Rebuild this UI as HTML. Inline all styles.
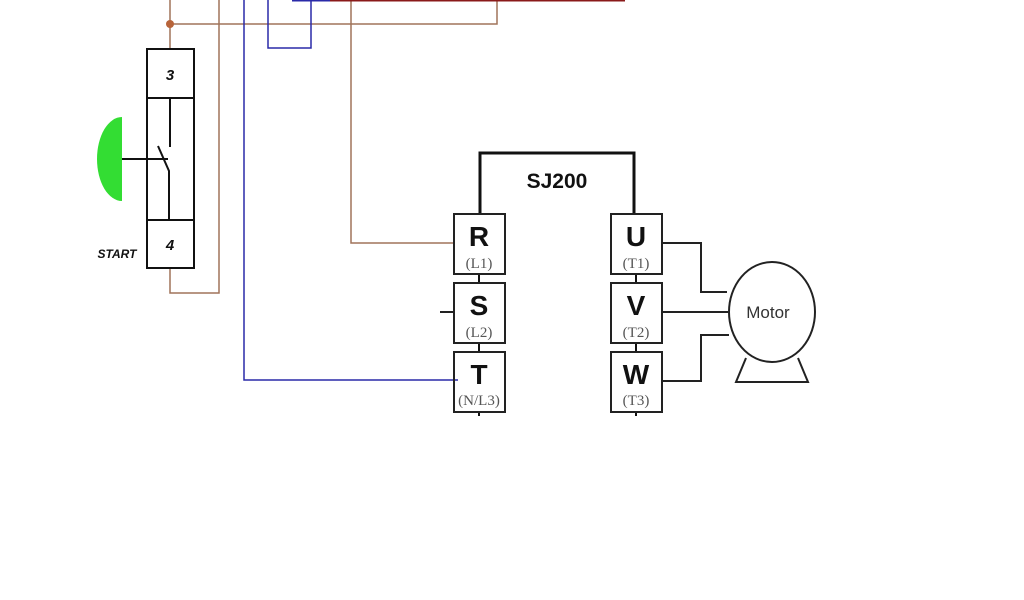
<!DOCTYPE html><html><head><style>body{margin:0;background:#fff}</style></head><body>
<svg width="1024" height="600" xmlns="http://www.w3.org/2000/svg" style="display:block">
<g fill="none" stroke-width="1.5">
<path d="M170 0V49M170 268V293H219V0M170 24H497V0M351 0V243H453" stroke="#a0745a"/>
<circle cx="170" cy="24" r="4" fill="#b8643a" stroke="none"/>
<path d="M244 0V380H458M268 0V48H311V0" stroke="#2a2aa8"/>
<path d="M292 0H330" stroke="#2a2aa8" stroke-width="3"/>
<path d="M330 0H625" stroke="#8a1a1a" stroke-width="3"/>
<rect x="147" y="49" width="47" height="219" stroke="#111" stroke-width="2"/>
<path d="M147 98H194M147 220H194M170 98V147M158 146L169 171V220M122 159H168" stroke="#111" stroke-width="2"/>
<path d="M480 214V153H634V214" stroke="#111" stroke-width="3"/>
<path d="M479 274V283M479 343V352M479 412V416M636 274V283M636 343V352M636 412V416" stroke="#111" stroke-width="2"/>
<g stroke="#222" stroke-width="2">
<rect x="454" y="214" width="51" height="60"/><rect x="454" y="283" width="51" height="60"/><rect x="454" y="352" width="51" height="60"/>
<rect x="611" y="214" width="51" height="60"/><rect x="611" y="283" width="51" height="60"/><rect x="611" y="352" width="51" height="60"/>
<path d="M440 312H454M662 243H701V292H727M662 312H728M662 381H701V335H729"/>
<ellipse cx="772" cy="312" rx="43" ry="50"/>
<path d="M746 358L736 382H808L798 358"/>
</g></g>
<path d="M122 117A25 42 0 0 0 122 201Z" fill="#33dd33"/>
<g font-family="Liberation Sans,sans-serif" font-weight="bold" fill="#111" text-anchor="middle">
<text x="170" y="80" font-size="15" font-style="italic">3</text>
<text x="170" y="250" font-size="15" font-style="italic">4</text>
<text x="117" y="258" font-size="12" font-style="italic">START</text>
<text x="557" y="188" font-size="21">SJ200</text>
<text x="479" y="246" font-size="28">R</text><text x="479" y="315" font-size="28">S</text><text x="479" y="384" font-size="28">T</text>
<text x="636" y="246" font-size="28">U</text><text x="636" y="315" font-size="28">V</text><text x="636" y="384" font-size="28">W</text>
</g>
<g font-family="Liberation Serif,serif" fill="#555" font-size="15" text-anchor="middle">
<text x="479" y="268">(L1)</text><text x="479" y="337">(L2)</text><text x="479" y="405">(N/L3)</text>
<text x="636" y="268">(T1)</text><text x="636" y="337">(T2)</text><text x="636" y="405">(T3)</text>
</g>
<text x="768" y="318" font-family="Liberation Sans,sans-serif" font-size="17" fill="#333" text-anchor="middle">Motor</text>
</svg></body></html>
